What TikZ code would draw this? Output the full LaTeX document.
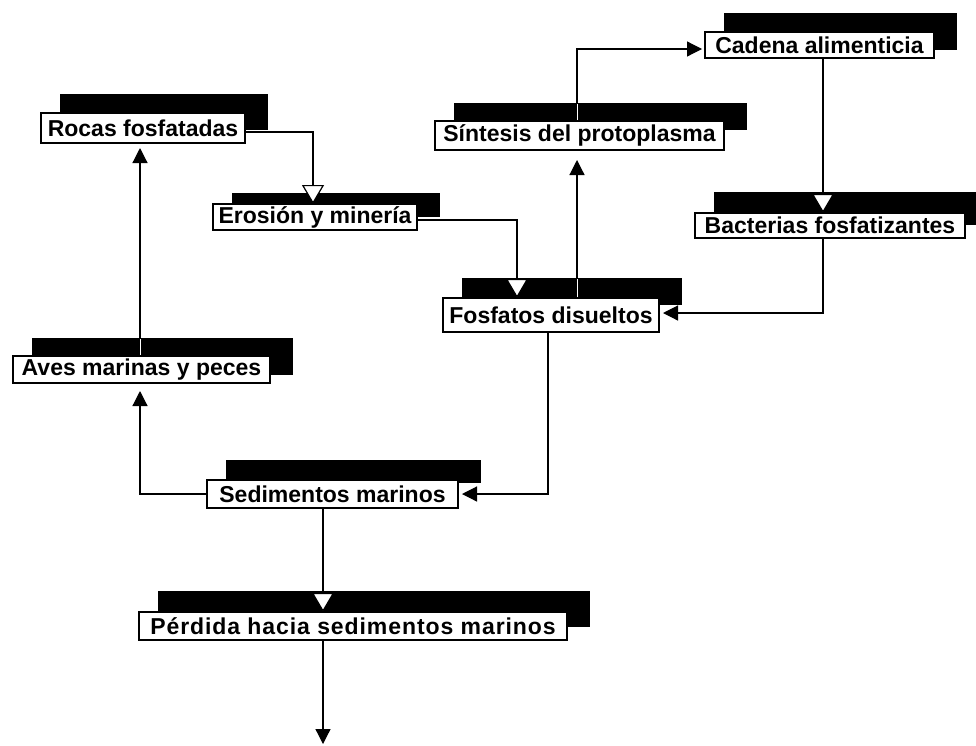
\documentclass[tikz,border=0pt]{standalone}
\usepackage{fontspec}
\setmainfont{Liberation Sans}
\usetikzlibrary{arrows.meta,calc}
\tikzset{
  box/.style={draw, line width=1.2pt, fill=white, inner sep=0pt, outer sep=0pt,
    font=\fontsize{23}{27}\selectfont\bfseries, align=center},
  conn/.style={line width=1.2pt},
  solidtip/.style={conn, -{Triangle[length=15pt,width=15pt]}},
  opentip/.style={conn, -{Triangle[length=19pt,width=22pt,fill=white]}},
  shadowline/.style={white, line width=0.7pt},
}
% name, x1, y1, x2, y2, shadow rise, text, shadow bottom lift
\newcommand{\mybox}[8]{%
  \fill (#2+19,#3-#6) rectangle (#4+23,#5-#8);
  \node[box, minimum width={#4-#2}, minimum height={#5-#3}] (#1) at ({(#2+#4)/2},{(#3+#5)/2}) {#7};}
\begin{document}
\begin{tikzpicture}[x=1pt,y=-1pt]
\useasboundingbox (0,0) rectangle (976,745);
\mybox{rocas}{41}{113}{245}{143}{19}{Rocas fosfatadas}{13}
\mybox{erosion}{213}{204}{417}{230}{11}{Erosión y minería}{13}
\mybox{cadena}{705}{32}{934}{58}{19}{Cadena alimenticia}{8}
\mybox{sintesis}{435}{121}{724}{150}{18}{Síntesis del protoplasma}{20}
\mybox{bacterias}{695}{213}{965}{238}{21}{Bacterias fosfatizantes}{13}
\mybox{fosfatos}{443}{298}{659}{332}{20}{Fosfatos disueltos}{27}
\mybox{aves}{13}{356}{270}{383}{18}{Aves marinas y peces}{8}
\mybox{sedimentos}{207}{480}{458}{508}{20}{Sedimentos marinos}{25}
\mybox{perdida}{139}{612}{567}{640}{21}{\addfontfeature{LetterSpace=4}Pérdida hacia sedimentos marinos}{13}
\coordinate (sink) at (323,744);

\draw[opentip] ([yshift=-4pt]rocas.east) -| ($(erosion.north west)+(100,0)$);
\draw[opentip] ([yshift=-3pt]erosion.east) -| ($(fosfatos.north west)+(74,0)$);
\draw[solidtip, shorten >=10pt] ($(fosfatos.north west)+(134,0)$) -- ($(sintesis.south west)+(142,0)$);
\draw[solidtip, shorten >=3pt] ($(sintesis.north west)+(142,0)$) |- ([yshift=-4pt]cadena.west);
\draw[opentip] ($(cadena.south west)+(118,0)$) -- ($(bacterias.north west)+(128,0)$);
\draw[solidtip, shorten >=4pt] ($(bacterias.south west)+(128,0)$) |- ([yshift=2pt]fosfatos.east);
\draw[solidtip, shorten >=4pt] ($(fosfatos.south west)+(105,0)$) |- (sedimentos.east);
\draw[solidtip, shorten >=8pt] (sedimentos.west) -| ($(aves.south west)+(127,0)$);
\draw[solidtip, shorten >=5pt] ($(aves.north west)+(127,0)$) -- ($(rocas.south west)+(99,0)$);
\draw[opentip] ($(sedimentos.south west)+(116,0)$) -- ($(perdida.north west)+(184,0)$);
\draw[solidtip] ($(perdida.south west)+(184,0)$) -- (sink);

% thin light streaks where connectors cross the shadows
\draw[shadowline] ($(sintesis.north west)+(142,-1)$) -- ++(0,-16);
\draw[shadowline] ($(fosfatos.north west)+(134,-1)$) -- ++(0,-18);
\draw[shadowline] ($(aves.north west)+(127,-1)$) -- ++(0,-16);
\end{tikzpicture}
\end{document}
